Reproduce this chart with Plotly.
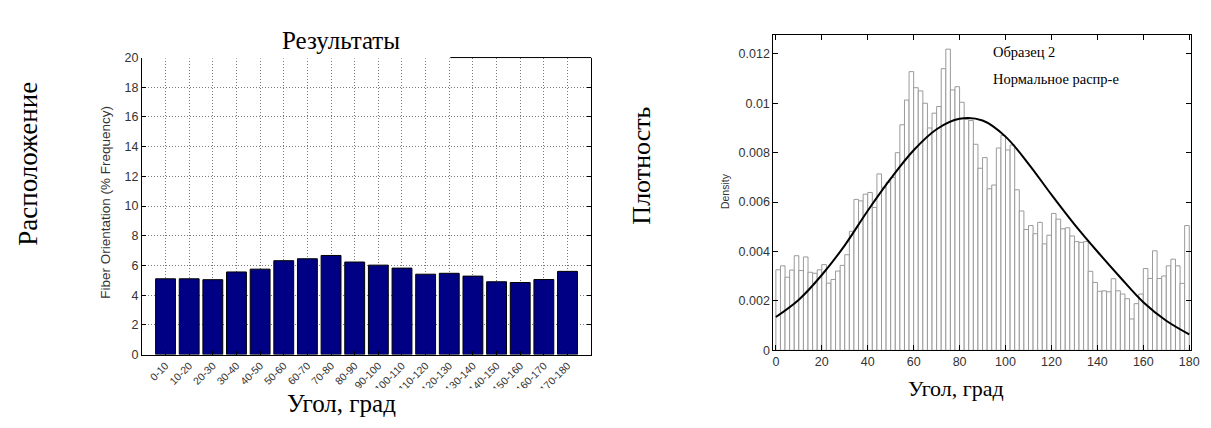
import plotly.graph_objects as go

# ---------------- data ----------------
categories = ['0-10', '10-20', '20-30', '30-40', '40-50', '50-60', '60-70', '70-80', '80-90',
              '90-100', '100-110', '110-120', '120-130', '130-140', '140-150', '150-160',
              '160-170', '170-180']
category_pos = [1, 2, 3, 4, 5, 6, 7, 8, 9, 10, 11, 12, 13, 14, 15, 16, 17, 18]
frequency = [5.10, 5.10, 5.04, 5.56, 5.75, 6.32, 6.45, 6.67, 6.23, 6.02, 5.82, 5.41, 5.47, 5.28,
             4.90, 4.85, 5.05, 5.60]

bin_centers = [1, 3, 5, 7, 9, 11, 13, 15, 17, 19, 21, 23, 25, 27, 29, 31, 33, 35, 37, 39,
               41, 43, 45, 47, 49, 51, 53, 55, 57, 59, 61, 63, 65, 67, 69, 71, 73, 75, 77, 79,
               81, 83, 85, 87, 89, 91, 93, 95, 97, 99, 101, 103, 105, 107, 109, 111, 113, 115, 117, 119,
               121, 123, 125, 127, 129, 131, 133, 135, 137, 139, 141, 143, 145, 147, 149, 151, 153, 155, 157, 159,
               161, 163, 165, 167, 169, 171, 173, 175, 177, 179]
density = [0.00326, 0.00342, 0.00296, 0.00325, 0.00383, 0.00323, 0.00378, 0.00316, 0.00312, 0.00326,
           0.00347, 0.00272, 0.00287, 0.00321, 0.00344, 0.00387, 0.00482, 0.00611, 0.00605, 0.00632,
           0.00639, 0.00578, 0.00714, 0.00660, 0.00680, 0.00700, 0.00800, 0.00913, 0.01013, 0.01128,
           0.01063, 0.01050, 0.01000, 0.00900, 0.00960, 0.00987, 0.01140, 0.01219, 0.01054, 0.01067,
           0.01004, 0.00935, 0.00930, 0.00834, 0.00737, 0.00780, 0.00654, 0.00669, 0.00819, 0.00870,
           0.00811, 0.00831, 0.00650, 0.00564, 0.00489, 0.00505, 0.00472, 0.00518, 0.00431, 0.00466,
           0.00554, 0.00531, 0.00492, 0.00496, 0.00463, 0.00440, 0.00437, 0.00440, 0.00320, 0.00275,
           0.00239, 0.00241, 0.00237, 0.00290, 0.00241, 0.00228, 0.00209, 0.00127, 0.00189, 0.00228,
           0.00331, 0.00291, 0.00403, 0.00291, 0.00301, 0.00342, 0.00369, 0.00342, 0.00271, 0.00505]

curve_x = [0, 10, 20, 30, 40, 50, 60, 70, 80, 90, 100, 110, 120, 130, 140, 150, 160, 170, 180]
curve_y = [0.00135, 0.00205, 0.00305, 0.00425, 0.00565, 0.00695, 0.00810, 0.00895, 0.00937, 0.00930,
           0.00865, 0.00755, 0.00630, 0.00510, 0.00400, 0.00295, 0.00195, 0.00120, 0.00065]

left_yticks = [0, 2, 4, 6, 8, 10, 12, 14, 16, 18, 20]
right_xticks = [0, 20, 40, 60, 80, 100, 120, 140, 160, 180]
right_yticks = [0, 0.002, 0.004, 0.006, 0.008, 0.010, 0.012]
right_yticktext = ['0', '0.002', '0.004', '0.006', '0.008', '0.01', '0.012']

# ---------------- layout helpers ----------------
W, H = 1211, 428


def fx(p):
    return p / W


def fy(p):
    return 1 - p / H


SANS = 'Liberation Sans, Arial, sans-serif'
SERIF = 'Liberation Serif, Times New Roman, serif'
TICKCOL = '#333333'
GRIDCOL = '#7a7a7a'

fig = go.Figure()
fig.add_trace(go.Bar(x=category_pos, y=frequency, width=0.84,
                     marker=dict(color='#000084', line=dict(color='black', width=1)),
                     xaxis='x', yaxis='y', showlegend=False))
fig.add_trace(go.Bar(x=bin_centers, y=density, width=2,
                     marker=dict(color='white', line=dict(color='#9a9a9a', width=1)),
                     xaxis='x2', yaxis='y2', showlegend=False))
fig.add_trace(go.Scatter(x=curve_x, y=curve_y, mode='lines',
                         line=dict(color='black', width=2, shape='spline'),
                         xaxis='x2', yaxis='y2', showlegend=False))

L_x0, L_x1, L_y0, L_y1 = 134, 587, 44, 351
R_x0, R_x1, R_y0, R_y1 = 770.7, 1191.7, 21, 346.7

fig.update_layout(
    width=W, height=H, margin=dict(l=0, r=0, t=0, b=0),
    paper_bgcolor='white', plot_bgcolor='white', barmode='overlay',
    xaxis=dict(domain=[fx(L_x0), fx(L_x1)], range=[0, 19], anchor='y',
               tickmode='array', tickvals=category_pos, ticktext=categories, tickangle=-45,
               ticks='inside', ticklen=4, tickcolor='black',
               showline=True, linecolor='black', linewidth=1, mirror=False,
               showgrid=True, gridcolor=GRIDCOL, griddash='1px,2px', gridwidth=1, zeroline=False,
               tickfont=dict(family=SANS, size=10.5, color=TICKCOL)),
    yaxis=dict(domain=[fy(L_y1), fy(L_y0)], range=[0, 20], anchor='x',
               tickmode='array', tickvals=left_yticks,
               ticks='inside', ticklen=4, tickcolor='black',
               showline=True, linecolor='black', linewidth=1, mirror='ticks',
               showgrid=True, gridcolor=GRIDCOL, griddash='1px,2px', gridwidth=1, zeroline=False,
               tickfont=dict(family=SANS, size=12.5, color=TICKCOL)),
    xaxis2=dict(domain=[fx(R_x0), fx(R_x1)], range=[-1.1, 180.7], anchor='y2',
                tickmode='array', tickvals=right_xticks,
                ticks='inside', ticklen=5, tickcolor='black',
                showline=True, linecolor='black', linewidth=1, mirror='ticks',
                showgrid=False, zeroline=False,
                tickfont=dict(family=SANS, size=12.5, color=TICKCOL)),
    yaxis2=dict(domain=[fy(R_y1), fy(R_y0)], range=[0, 0.01275], anchor='x2',
                tickmode='array', tickvals=right_yticks, ticktext=right_yticktext,
                ticks='inside', ticklen=5, tickcolor='black',
                showline=True, linecolor='black', linewidth=1, mirror='ticks',
                showgrid=False, zeroline=False,
                tickfont=dict(family=SANS, size=12.5, color=TICKCOL)),
)

# white strip hiding the top border/grid where the title box covers it
fig.add_shape(type='line', xref='paper', yref='paper', x0=fx(L_x0 + 1), x1=fx(445),
              y0=fy(L_y0), y1=fy(L_y0), line=dict(color='white', width=2), layer='above')
# partial top border of the left axes
fig.add_shape(type='line', xref='paper', yref='paper', x0=fx(445), x1=fx(L_x1),
              y0=fy(L_y0), y1=fy(L_y0), line=dict(color='black', width=1), layer='above')
# white box of the overlaid axis caption, clipping the long tick labels
fig.add_shape(type='rect', xref='paper', yref='paper', x0=fx(120), x1=fx(610),
              y0=0, y1=fy(386), line=dict(width=0), fillcolor='white', layer='above')

ann = [
    dict(text='Результаты', x=fx(335), y=fy(26), font=dict(family=SERIF, size=25, color='black')),
    dict(text='Угол, град', x=fx(335), y=fy(402), font=dict(family=SERIF, size=25, color='black')),
    dict(text='Расположение', x=fx(19), y=fy(154), textangle=-90,
         font=dict(family=SERIF, size=27, color='black')),
    dict(text='Fiber Orientation (% Frequency)', x=fx(97), y=fy(194), textangle=-90,
         font=dict(family=SANS, size=13.5, color=TICKCOL)),
    dict(text='Плотность', x=fx(638), y=fy(156), textangle=-90,
         font=dict(family=SERIF, size=26, color='black')),
    dict(text='Density', x=fx(722), y=fy(182), textangle=-90,
         font=dict(family=SANS, size=10.5, color=TICKCOL)),
    dict(text='Угол, град', x=fx(955), y=fy(386), font=dict(family=SERIF, size=22, color='black')),
    dict(text='Образец 2', x=fx(990), y=fy(38), xanchor='left',
         font=dict(family=SERIF, size=14.5, color='black')),
    dict(text='Нормальное распр-е', x=fx(990), y=fy(66), xanchor='left',
         font=dict(family=SERIF, size=14.5, color='black')),
]
for a in ann:
    a.setdefault('xanchor', 'center')
    fig.add_annotation(xref='paper', yref='paper', yanchor='middle', showarrow=False, **a)

fig.write_html('out.html')
